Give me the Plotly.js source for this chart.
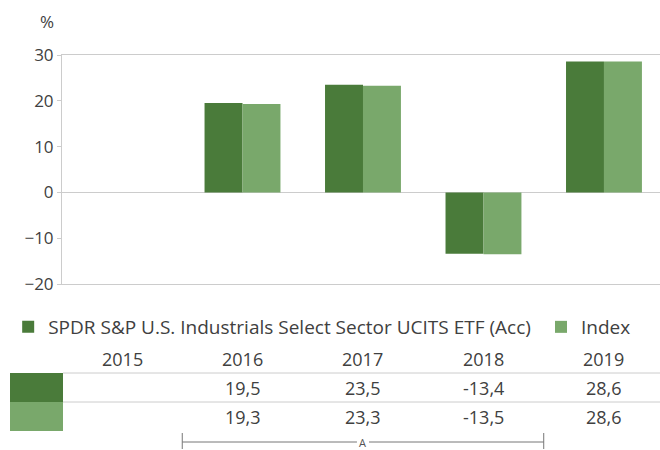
<!DOCTYPE html>
<html>
<head>
<meta charset="utf-8">
<script src="https://cdn.plot.ly/plotly-3.0.1.min.js"></script>
<style>html,body{margin:0;padding:0;background:#fff;overflow:hidden}</style>
</head>
<body>
<div id="chart" style="width:660px;height:450px"></div>
<script>
var years = ["2015", "2016", "2017", "2018", "2019"];
var fundName = "SPDR S&P U.S. Industrials Select Sector UCITS ETF (Acc)";
var indexName = "Index";
var fundValues = [null, 19.5, 23.5, -13.4, 28.6];
var indexValues = [null, 19.3, 23.3, -13.5, 28.6];
var yTicks = [-20, -10, 0, 10, 20, 30];
var bracketLabel = "A";
var bracketFrom = 1, bracketTo = 3;

var darkGreen = "#4a7b3a";
var lightGreen = "#79a86b";
var textColor = "#404040";
var lineColor = "#cccccc";
var font = "Open Sans, Noto Sans, sans-serif";

// plot area in pixels: top 55, bottom 284
var plotTop = 55, plotBottom = 284, plotH = plotBottom - plotTop;
function py(p) { return (plotBottom - p) / plotH; }

function fmt(v) { return v.toFixed(1).replace(".", ","); }

var traces = [
  {type: "bar", x: years, y: fundValues, name: fundName, marker: {color: darkGreen}, hoverinfo: "skip", legend: "legend"},
  {type: "bar", x: years, y: indexValues, name: indexName, marker: {color: lightGreen}, hoverinfo: "skip", legend: "legend2"}
];

var annotations = [
  {text: "%", xref: "paper", yref: "paper", x: -0.025, y: py(21), showarrow: false, xanchor: "center", yanchor: "middle", font: {size: 17, color: textColor, family: font}}
];
var shapes = [];

function cell(txt, i, p) {
  annotations.push({text: txt, xref: "x", yref: "paper", x: i, y: py(p), showarrow: false,
    xanchor: "center", yanchor: "middle", font: {size: 18, color: textColor, family: font}});
}
years.forEach(function (yr, i) {
  cell(yr, i, 359);
  if (fundValues[i] !== null) cell(fmt(fundValues[i]), i, 388);
  if (indexValues[i] !== null) cell(fmt(indexValues[i]), i, 417);
});

// table colour swatches
shapes.push({type: "rect", xref: "paper", yref: "paper", x0: (10 - 62) / 598, x1: (63 - 62) / 598, y0: py(373), y1: py(402), fillcolor: darkGreen, line: {width: 0}});
shapes.push({type: "rect", xref: "paper", yref: "paper", x0: (10 - 62) / 598, x1: (63 - 62) / 598, y0: py(402), y1: py(431), fillcolor: lightGreen, line: {width: 0}});
// row separators
[373, 402].forEach(function (p) {
  shapes.push({type: "line", xref: "paper", yref: "paper", x0: (63 - 62) / 598, x1: 1.01, y0: py(p), y1: py(p), line: {color: lineColor, width: 1}});
});
// bracket
var bx0 = bracketFrom - 0.5, bx1 = bracketTo + 0.5, bmid = (bracketFrom + bracketTo) / 2;
shapes.push({type: "line", xref: "x", yref: "paper", x0: bx0, x1: bx0, y0: py(433), y1: py(449), line: {color: "#777", width: 1}});
shapes.push({type: "line", xref: "x", yref: "paper", x0: bx1, x1: bx1, y0: py(433), y1: py(449), line: {color: "#777", width: 1}});
shapes.push({type: "line", xref: "x", yref: "paper", x0: bx0, x1: bmid - 0.05, y0: py(442), y1: py(442), line: {color: "#777", width: 1}});
shapes.push({type: "line", xref: "x", yref: "paper", x0: bmid + 0.05, x1: bx1, y0: py(442), y1: py(442), line: {color: "#777", width: 1}});
annotations.push({text: bracketLabel, xref: "x", yref: "paper", x: bmid, y: py(442), showarrow: false, xanchor: "center", yanchor: "middle", borderpad: 0, font: {size: 11, color: "#555", family: font}});

var legendBase = {orientation: "h", xanchor: "left", y: py(327), yanchor: "middle",
  font: {size: 19, color: textColor, family: font}, bgcolor: "rgba(0,0,0,0)"};

var layout = {
  width: 660, height: 450,
  margin: {l: 62, r: 0, t: plotTop, b: 450 - plotBottom, pad: 0},
  paper_bgcolor: "#fff", plot_bgcolor: "#fff",
  barmode: "group", bargap: 0.37, bargroupgap: 0,
  showlegend: true,
  legend: Object.assign({}, legendBase, {x: -0.09}),
  legend2: Object.assign({}, legendBase, {x: 0.801}),
  xaxis: {type: "category", range: [-0.498, 4.465], showticklabels: false, ticks: "",
          showline: true, mirror: "all", linecolor: lineColor, linewidth: 1, showgrid: false, zeroline: false, fixedrange: true},
  yaxis: {range: [-20, 30], tickvals: yTicks, ticks: "outside", ticklen: 4, tickcolor: lineColor,
          showline: true, linecolor: lineColor, linewidth: 1, showgrid: false,
          zeroline: true, zerolinecolor: lineColor, zerolinewidth: 1,
          tickfont: {size: 17, color: textColor, family: font}, fixedrange: true},
  annotations: annotations,
  shapes: shapes,
  font: {family: font, color: textColor}
};

Plotly.newPlot("chart", traces, layout, {displayModeBar: false, staticPlot: true});
</script>
</body>
</html>
